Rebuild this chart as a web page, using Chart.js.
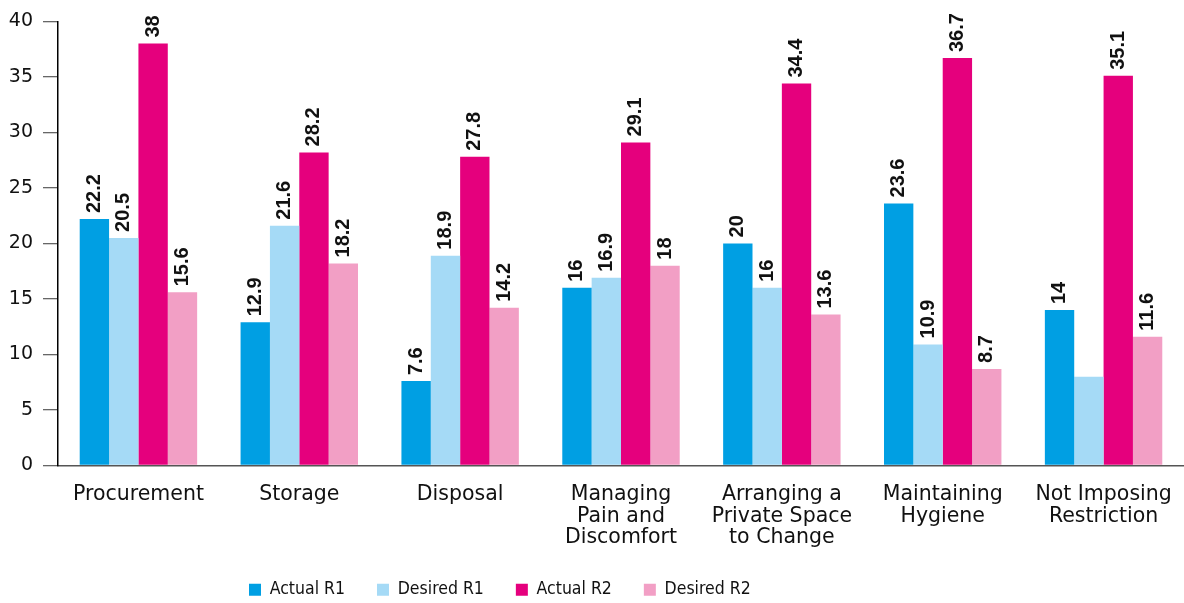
<!DOCTYPE html>
<html>
<head>
<meta charset="utf-8">
<script src="https://cdn.jsdelivr.net/npm/chart.js@4.4.1/dist/chart.umd.min.js"></script>
<style>
  html, body { margin: 0; padding: 0; background: #fff; }
  .wrap { width: 1184px; height: 603px; }
</style>
</head>
<body>
<div class="wrap"><canvas id="myChart"></canvas></div>
<script>
const categories = [
    ['Procurement'],
    ['Storage'],
    ['Disposal'],
    ['Managing', 'Pain and', 'Discomfort'],
    ['Arranging a', 'Private Space', 'to Change'],
    ['Maintaining', 'Hygiene'],
    ['Not Imposing', 'Restriction'],
];

const actualR1 = [22.2, 12.9, 7.6, 16, 20, 23.6, 14];
const desiredR1 = [20.5, 21.6, 18.9, 16.9, 16, 10.9, 8];
const actualR2 = [38, 28.2, 27.8, 29.1, 34.4, 36.7, 35.1];
const desiredR2 = [15.6, 18.2, 14.2, 18, 13.6, 8.7, 11.6];

// the picture prints no number over this bar (dataset-index)
const noLabel = ['1-6'];

const yMin = 0;
const yMax = 40;
const yStep = 5;

const legendFontSize = 17.5;
const legendPad = 32;
const extraBottom = 10; // room for descenders of the last label line

// numbers turned on their side above each bar
const valueLabels = {
    id: 'valueLabels',
    afterDatasetsDraw(chart) {
        const ctx = chart.ctx;
        ctx.save();
        ctx.font = 'bold 20px "Liberation Sans", Arial, sans-serif';
        ctx.fillStyle = '#111';
        ctx.textAlign = 'left';
        ctx.textBaseline = 'middle';
        chart.data.datasets.forEach((ds, i) => {
            chart.getDatasetMeta(i).data.forEach((bar, j) => {
                if (noLabel.includes(i + '-' + j)) return;
                ctx.save();
                ctx.translate(bar.x, bar.y - 6);
                ctx.rotate(-Math.PI / 2);
                ctx.fillText(String(ds.data[j]), 0, 0);
                ctx.restore();
            });
        });
        ctx.restore();
    }
};

// legend sits low and left of centre
const legendPlace = {
    id: 'legendPlace',
    afterLayout(chart) {
        const lg = chart.legend;
        const h = lg.bottom - lg.top;
        lg.top = 549;
        lg.bottom = lg.top + h;
        lg.right = 2 * 249 - legendPad + lg.lineWidths[0];
    }
};

const data = {
    labels: categories,
    datasets: [
        { label: 'Actual R1', data: actualR1, backgroundColor: '#009FE3' },
        { label: 'Desired R1', data: desiredR1, backgroundColor: '#A5DAF6' },
        { label: 'Actual R2', data: actualR2, backgroundColor: '#E5007D' },
        { label: 'Desired R2', data: desiredR2, backgroundColor: '#F29FC5' },
    ]
};

const config = {
    type: 'bar',
    data: data,
    options: {
        responsive: true,
        maintainAspectRatio: false,
        animation: false,
        layout: { padding: { top: 21, left: 0, right: 0, bottom: -extraBottom } },
        datasets: {
            bar: { categoryPercentage: 0.73, barPercentage: 1 }
        },
        plugins: {
            tooltip: { enabled: false },
            legend: {
                position: 'bottom',
                labels: {
                    boxWidth: 12,
                    boxHeight: 12,
                    padding: legendPad,
                    color: '#111',
                    font: { family: '"DejaVu Sans Condensed", sans-serif', size: legendFontSize }
                }
            }
        },
        scales: {
            x: {
                grid: { display: false },
                border: { display: true, color: '#555', width: 1.5 },
                ticks: {
                    color: '#111',
                    font: { family: '"DejaVu Sans", sans-serif', size: 20.5, lineHeight: 1.03 },
                    padding: 11,
                    maxRotation: 0,
                    autoSkip: false
                },
                afterFit: s => { s.height = s.chart.height + extraBottom - s.chart.legend.height - 21 - 444.5; }
            },
            y: {
                min: yMin,
                max: yMax,
                grid: { drawOnChartArea: false, drawTicks: true, tickLength: 15, color: '#666', lineWidth: 1.3 },
                border: { display: true, color: '#000', width: 1.5 },
                ticks: { stepSize: yStep, color: '#111', font: { family: '"DejaVu Sans", sans-serif', size: 19 }, padding: 10 },
                afterFit: s => { s.width = 58; }
            }
        }
    },
    plugins: [valueLabels, legendPlace]
};

const myChart = new Chart(document.getElementById('myChart'), config);
</script>
</body>
</html>
